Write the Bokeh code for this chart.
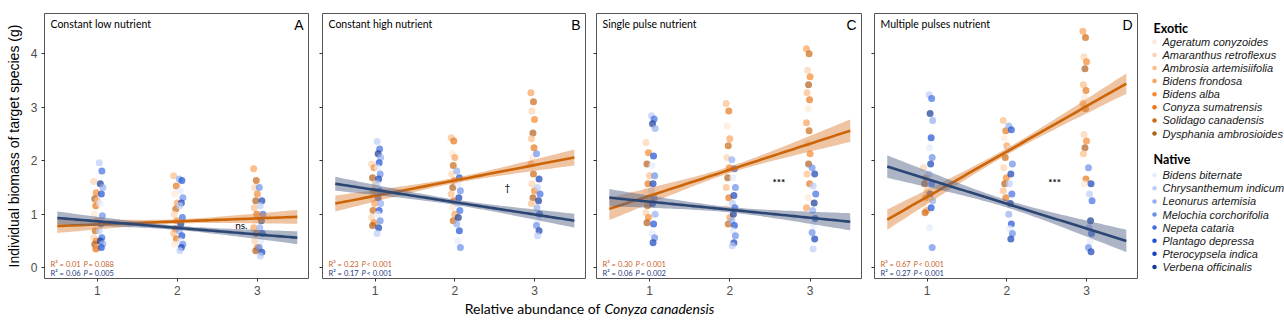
import numpy as np
from bokeh.plotting import figure
from bokeh.layouts import row, column
from bokeh.models import Label, Range1d, FixedTicker
from bokeh.core.properties import value
from bokeh.embed import file_html
from bokeh.resources import INLINE

# ---------------- data ----------------
panel_titles = ["Constant low nutrient", "Constant high nutrient",
                "Single pulse nutrient", "Multiple pulses nutrient"]
panel_letters = ["A", "B", "C", "D"]
abundance_levels = [1, 2, 3]

exotic_species = ["Ageratum conyzoides", "Amaranthus retroflexus", "Ambrosia artemisiifolia",
                  "Bidens frondosa", "Bidens alba", "Conyza sumatrensis",
                  "Solidago canadensis", "Dysphania ambrosioides"]
native_species = ["Bidens biternate", "Chrysanthemum indicum", "Leonurus artemisia",
                  "Melochia corchorifolia", "Nepeta cataria", "Plantago depressa",
                  "Pterocypsela indica", "Verbena officinalis"]
exotic_colors = ["#fde8d7", "#fcd3b0", "#fbbd89", "#f9a35b", "#f58a2e", "#e8771a", "#cf6a12", "#b0601e"]
native_colors = ["#e4ebfb", "#bccdf6", "#93aef0", "#6b90ea", "#3f6ee4", "#1d52d6", "#1843b8", "#173a96"]

# biomass (g) per abundance level 1, 2, 3
low_exotic = [
    [1.61, 1.40, 1.29, 1.25, 1.16, 1.00, 0.88, 0.69, 0.56, 0.50, 0.44, 0.38, 0.35],
    [1.72, 1.53, 1.38, 1.21, 1.10, 1.00, 0.88, 0.73, 0.64, 0.54, 0.44],
    [1.85, 1.63, 1.50, 1.38, 1.25, 1.12, 1.00, 0.88, 0.75, 0.64, 0.50, 0.38, 0.32]]
low_native = [
    [1.96, 1.81, 1.57, 1.50, 1.38, 1.20, 0.97, 0.82, 0.69, 0.56, 0.50, 0.45, 0.38],
    [1.66, 1.63, 1.44, 1.31, 1.21, 1.16, 0.94, 0.82, 0.69, 0.60, 0.50, 0.44, 0.38, 0.32],
    [1.50, 1.25, 1.16, 1.00, 0.88, 0.75, 0.64, 0.50, 0.38, 0.29, 0.22]]
high_exotic = [
    [1.94, 1.87, 1.68, 1.57, 1.44, 1.31, 1.20, 1.07, 0.94, 0.84, 0.79],
    [2.43, 2.37, 2.13, 2.06, 1.91, 1.75, 1.63, 1.50, 1.38, 1.25, 1.12, 1.00, 0.88],
    [3.27, 3.10, 2.93, 2.77, 2.52, 2.41, 2.24, 2.06, 1.94, 1.75, 1.57, 1.44, 1.31, 1.20]]
high_native = [
    [2.36, 2.22, 2.13, 2.06, 1.96, 1.87, 1.75, 1.66, 1.57, 1.44, 1.31, 1.20, 1.07, 1.00, 0.88, 0.75, 0.64],
    [1.81, 1.68, 1.57, 1.44, 1.31, 1.20, 1.07, 0.94, 0.82, 0.69, 0.50, 0.38],
    [2.13, 1.66, 1.50, 1.38, 1.25, 1.12, 1.00, 0.88, 0.79, 0.69, 0.60]]
single_exotic = [
    [2.34, 2.15, 1.94, 1.72, 1.57, 1.44, 1.31, 1.16, 1.03, 0.94, 0.84],
    [3.07, 2.93, 2.65, 2.41, 2.28, 2.06, 1.87, 1.68, 1.50, 1.31, 1.12, 0.94, 0.82],
    [4.09, 4.00, 3.69, 3.57, 3.42, 3.27, 3.14, 2.97, 2.71, 2.56, 2.32, 2.13, 1.94, 1.75, 1.57, 1.31, 1.12]]
single_native = [
    [2.84, 2.78, 2.69, 2.60, 2.09, 1.91, 1.72, 1.57, 1.44, 1.31, 1.20, 1.00, 0.82, 0.64, 0.56, 0.47],
    [2.02, 1.85, 1.68, 1.50, 1.35, 1.21, 1.12, 1.00, 0.88, 0.79, 0.69, 0.60, 0.47, 0.41],
    [1.87, 1.75, 1.53, 1.38, 1.21, 1.07, 0.92, 0.79, 0.66, 0.54, 0.35]]
multi_exotic = [
    [1.87, 1.68, 1.57, 1.44, 1.31, 1.20, 1.07, 1.03],
    [2.75, 2.56, 2.43, 2.28, 2.06, 1.87, 1.68, 1.57, 1.44, 1.31],
    [4.42, 4.30, 3.94, 3.85, 3.72, 3.42, 3.31, 3.18, 3.07, 2.97, 2.49, 2.37, 2.24, 2.13, 1.66, 1.57]]
multi_native = [
    [3.23, 3.16, 2.88, 2.75, 2.43, 2.24, 2.06, 1.94, 1.75, 1.57, 1.38, 1.25, 1.12, 0.75, 0.38],
    [2.65, 2.58, 2.22, 1.94, 1.75, 1.57, 1.38, 1.20, 1.00, 0.82, 0.73, 0.64, 0.54],
    [1.87, 1.57, 1.38, 1.25, 0.88, 0.75, 0.64, 0.50, 0.38, 0.30]]

exotic_by_panel = [low_exotic, high_exotic, single_exotic, multi_exotic]
native_by_panel = [low_native, high_native, single_native, multi_native]

# fitted regression lines (intercept, slope) and CI half-widths (centre, ends)
exotic_intercept = [0.752, 1.057, 0.857, 0.477]
exotic_slope = [0.057, 0.287, 0.487, 0.847]
native_intercept = [0.992, 1.685, 1.385, 2.122]
native_slope = [-0.123, -0.230, -0.150, -0.463]
exotic_ci_mid = [0.04, 0.05, 0.06, 0.06]
exotic_ci_end = [0.13, 0.15, 0.21, 0.19]
native_ci_mid = [0.04, 0.05, 0.05, 0.07]
native_ci_end = [0.12, 0.13, 0.16, 0.21]

exotic_r2 = ["0.01", "0.23", "0.30", "0.67"]
exotic_p = ["= 0.088", "< 0.001", "< 0.001", "< 0.001"]
native_r2 = ["0.06", "0.17", "0.06", "0.27"]
native_p = ["= 0.005", "< 0.001", "= 0.002", "< 0.001"]

signif_text = ["ns.", "\u2020", "***", "***"]
signif_bold = ["normal", "normal", "bold", "bold"]
signif_x = [2.80, 2.66, 2.61, 2.60]
signif_y = [0.80, 1.50, 1.60, 1.60]

# ---------------- style ----------------
X0, X1 = 0.34, 3.64
Y0, Y1 = -0.2, 4.75
EXO_LINE = "#cc6508"
NAT_LINE = "#2c4674"
EXO_TXT = "#c4612a"
NAT_TXT = "#1f3b80"
SANS = "Liberation Sans"
CAL = "Lato"

def jitter(i, base, spread):
    return base + spread * (((i * 5) % 8) / 7.0)

def make_panel(k, width, left, right):
    p = figure(width=width, height=300, x_range=Range1d(X0, X1), y_range=Range1d(Y0, Y1),
               min_border_left=left, min_border_right=right, min_border_top=13,
               min_border_bottom=22, toolbar_location=None, output_backend="svg")
    p.title.visible = False
    p.xgrid.visible = False
    p.ygrid.visible = False
    p.outline_line_color = "#555555"
    p.outline_line_width = 1
    p.background_fill_color = "white"
    p.border_fill_color = "white"
    for ax in (p.xaxis[0], p.yaxis[0]):
        ax.axis_line_color = None
        ax.major_tick_in = 0
        ax.major_tick_out = 3
        ax.major_tick_line_color = "#333333"
        ax.minor_tick_line_color = None
        ax.major_label_text_font = SANS
        ax.major_label_text_font_size = "12px"
        ax.major_label_text_color = "#4d4d4d"
    p.xaxis.ticker = FixedTicker(ticks=abundance_levels)
    p.yaxis.ticker = FixedTicker(ticks=[0, 1, 2, 3, 4])
    p.xaxis.major_label_standoff = 4
    if k == 0:
        p.yaxis.axis_label = "Individual biomass of target species (g)"
        p.yaxis.axis_label_text_font = SANS
        p.yaxis.axis_label_text_font_size = "14px"
        p.yaxis.axis_label_text_font_style = "normal"
        p.yaxis.axis_label_text_color = "black"
        p.yaxis.axis_label_standoff = 6
        p.yaxis.major_label_standoff = 4
    else:
        p.yaxis.major_label_text_color = None
        p.yaxis.major_label_text_font_size = "1px"
        p.yaxis.major_label_standoff = 0

    # points
    for groups, cols, base in ((exotic_by_panel[k], exotic_colors, -0.045),
                               (native_by_panel[k], native_colors, 0.025)):
        xs, ys, cs = [], [], []
        for lev, vals in zip(abundance_levels, groups):
            for i, v in enumerate(vals):
                xs.append(lev + jitter(i, base, 0.045))
                ys.append(v)
                cs.append(cols[(i * 3 + lev) % 8])
        p.scatter(xs, ys, size=7, fill_color=cs, fill_alpha=0.7, line_color=None)

    # regression bands and lines
    xs = np.linspace(0.5, 3.5, 61)
    for a, b, cm, ce, col, band in (
            (exotic_intercept[k], exotic_slope[k], exotic_ci_mid[k], exotic_ci_end[k], EXO_LINE, "#e08a45"),
            (native_intercept[k], native_slope[k], native_ci_mid[k], native_ci_end[k], NAT_LINE, "#5a6a8e")):
        yfit = a + b * xs
        hw = np.sqrt(cm ** 2 + (ce ** 2 - cm ** 2) * ((xs - 2.0) / 1.5) ** 2)
        p.varea(x=xs, y1=yfit - hw, y2=yfit + hw, fill_color=band, fill_alpha=0.5)
        p.line(xs, yfit, line_color=col, line_width=2.6)

    # titles & letters
    p.add_layout(Label(x=X0, y=Y1, x_offset=6, y_offset=-4, text=panel_titles[k],
                       text_font=CAL, text_font_size="10.5px", text_baseline="top",
                       text_color="black"))
    p.add_layout(Label(x=X1, y=Y1, x_offset=-5, y_offset=-3, text=panel_letters[k],
                       text_font=SANS, text_font_size="14px", text_baseline="top",
                       text_align="right", text_color="black"))
    # stats text
    for r2, pv, col, yo in ((exotic_r2[k], exotic_p[k], EXO_TXT, 10),
                            (native_r2[k], native_p[k], NAT_TXT, 1)):
        p.add_layout(Label(x=X0, y=Y0, x_offset=6, y_offset=yo, text="R\u00b2 = " + r2,
                           text_font=CAL, text_font_size="7.5px", text_color=col))
        p.add_layout(Label(x=X0, y=Y0, x_offset=39, y_offset=yo, text="P",
                           text_font=CAL, text_font_size="7.5px", text_font_style="italic",
                           text_color=col))
        p.add_layout(Label(x=X0, y=Y0, x_offset=44, y_offset=yo, text=pv,
                           text_font=CAL, text_font_size="7.5px", text_color=col))
    p.text(x=[signif_x[k]], y=[signif_y[k]], text=[signif_text[k]],
           text_font=value(CAL), text_font_size="10px", text_font_style=signif_bold[k],
           text_align="center", text_baseline="middle", text_color="black")
    return p

panels = [make_panel(0, 315, 44, 7), make_panel(1, 275, 7, 5),
          make_panel(2, 277, 6, 6), make_panel(3, 276, 7, 6)]

# legend panel
leg = figure(width=141, height=300, x_range=Range1d(0, 141), y_range=Range1d(300, 0),
             min_border=0, toolbar_location=None, output_backend="svg",
             x_axis_type=None, y_axis_type=None)
leg.title.visible = False
leg.outline_line_color = None
leg.xgrid.visible = False
leg.ygrid.visible = False
for title, names, cols, y_title, y_first in (("Exotic", exotic_species, exotic_colors, 17, 32),
                                             ("Native", native_species, native_colors, 165, 183)):
    leg.text(x=[10], y=[y_title], text=[title], text_font=value(CAL), text_font_style="bold",
             text_font_size="12.5px", text_baseline="middle", text_color="black")
    ys = [y_first + 14.85 * i for i in range(len(names))]
    leg.scatter([11] * len(names), ys, size=4.5, fill_color=cols, line_color=None)
    leg.text(x=[19] * len(names), y=ys, text=names, text_font=value(SANS),
             text_font_style="italic", text_font_size="11px", text_baseline="middle",
             text_color="#1a1a1a")

# x axis title strip
xt = figure(width=1284, height=21, x_range=Range1d(0, 1284), y_range=Range1d(21, 0),
            min_border=0, toolbar_location=None, output_backend="svg",
            x_axis_type=None, y_axis_type=None)
xt.title.visible = False
xt.outline_line_color = None
xt.xgrid.visible = False
xt.ygrid.visible = False
xt.text(x=[600], y=[8], text=["Relative abundance of"], text_font=value(CAL),
        text_font_size="14px", text_align="right", text_baseline="middle", text_color="black")
xt.text(x=[604], y=[8], text=["Conyza canadensis"], text_font=value(CAL),
        text_font_size="14px", text_font_style="italic", text_align="left",
        text_baseline="middle", text_color="black")

layout = column(row(*panels, leg, spacing=0), xt, spacing=0)
open("out.html", "w").write(file_html(layout, INLINE))
